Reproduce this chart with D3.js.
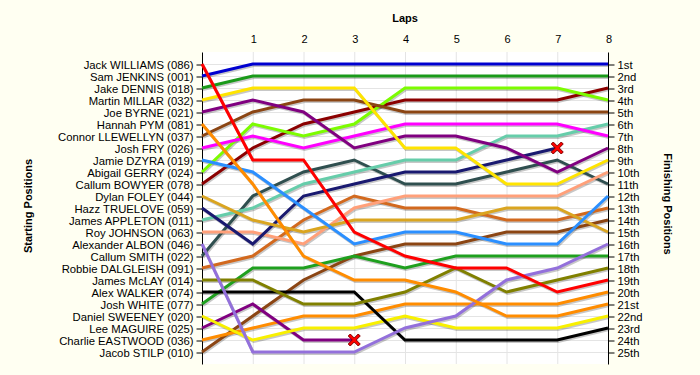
<!DOCTYPE html>
<html>
<head>
<meta charset="utf-8">
<script src="https://cdn.jsdelivr.net/npm/d3@7"></script>
<style>
  body { margin: 0; background: #fffff2; }
  text { font-family: "Liberation Sans", Arial, sans-serif; }
</style>
</head>
<body>
<div id="chart"></div>
<script>
// Chart data
let drivers = [
    "Jack WILLIAMS (086)", "Sam JENKINS (001)", "Jake DENNIS (018)", "Martin MILLAR (032)",
    "Joe BYRNE (021)", "Hannah PYM (081)", "Connor LLEWELLYN (037)", "Josh FRY (026)",
    "Jamie DZYRA (019)", "Abigail GERRY (024)", "Callum BOWYER (078)", "Dylan FOLEY (044)",
    "Hazz TRUELOVE (059)", "James APPLETON (011)", "Roy JOHNSON (063)", "Alexander ALBON (046)",
    "Callum SMITH (022)", "Robbie DALGLEISH (091)", "James McLAY (014)", "Alex WALKER (074)",
    "Josh WHITE (077)", "Daniel SWEENEY (020)", "Lee MAGUIRE (025)", "Charlie EASTWOOD (036)",
    "Jacob STILP (010)"
];

let laps = [1, 2, 3, 4, 5, 6, 7, 8];

let finishLabels = ["1st", "2nd", "3rd", "4th", "5th", "6th", "7th", "8th", "9th", "10th",
    "11th", "12th", "13th", "14th", "15th", "16th", "17th", "18th", "19th", "20th",
    "21st", "22nd", "23rd", "24th", "25th"];

// position of each driver at lap 0..8 (shorter list = retired on its last lap)
let positions = [
    [1, 9, 9, 15, 17, 18, 18, 20, 19],
    [2, 1, 1, 1, 1, 1, 1, 1, 1],
    [3, 2, 2, 2, 2, 2, 2, 2, 2],
    [4, 3, 3, 3, 8, 8, 11, 11, 9],
    [5, 4, 5, 8, 7, 7, 8, 10, 8],
    [6, 11, 17, 19, 19, 20, 22, 22, 21],
    [7, 5, 4, 4, 5, 5, 5, 5, 5],
    [8, 7, 8, 7, 6, 6, 6, 6, 7],
    [9, 10, 13, 16, 15, 15, 16, 16, 12],
    [10, 6, 7, 6, 3, 3, 3, 3, 4],
    [11, 8, 6, 5, 4, 4, 4, 4, 3],
    [12, 14, 15, 14, 14, 14, 13, 13, 15],
    [13, 16, 12, 11, 10, 10, 9, 8],
    [14, 13, 11, 10, 9, 9, 7, 7, 6],
    [15, 15, 16, 13, 12, 12, 12, 12, 10],
    [16, 25, 25, 25, 23, 22, 19, 18, 16],
    [17, 12, 10, 9, 11, 11, 10, 9, 11],
    [18, 17, 14, 12, 13, 13, 14, 14, 13],
    [19, 19, 21, 21, 20, 18, 20, 19, 18],
    [20, 20, 20, 20, 24, 24, 24, 24, 23],
    [21, 18, 18, 17, 18, 17, 17, 17, 17],
    [22, 24, 23, 23, 22, 23, 23, 23, 22],
    [23, 21, 24, 24],
    [24, 23, 22, 22, 21, 21, 21, 21, 20],
    [25, 22, 19, 17, 16, 16, 15, 15, 14]
];

// line colours, one per driver
let palette = [
    "#ff0000", "#0000d0", "#1a9a1a", "#ffe400", "#800080", "#ff8c00", "#8b4513", "#ff00ff",
    "#2b8fff", "#7cfc00", "#8b0000", "#daa520", "#191970", "#66cdaa", "#ffa07a", "#9370db",
    "#2f4f4f", "#d2691e", "#808000", "#000000", "#1fa01f", "#f8f000", "#800080", "#ff8c00",
    "#8b4513"
];

let svgWidth = 700;
let svgHeight = 375;

let svg = d3.select("#chart")
    .append("svg")
    .attr("width", svgWidth)
    .attr("height", svgHeight);

let xScale = d3.scaleLinear()
    .domain([0, 8])
    .range([202, 608]);

let yScale = d3.scaleLinear()
    .domain([1, 25])
    .range([64, 352]);

let plotTop = 52;
let plotBottom = 364;

// plot background
svg.append("rect")
    .attr("x", xScale(0))
    .attr("y", plotTop)
    .attr("width", xScale(8) - xScale(0))
    .attr("height", plotBottom - plotTop)
    .attr("fill", "#ffffff");

// gridlines
svg.append("g")
    .selectAll("line")
    .data(d3.range(1, 26))
    .join("line")
    .attr("x1", xScale(0))
    .attr("x2", xScale(8))
    .attr("y1", d => yScale(d) + 0.5)
    .attr("y2", d => yScale(d) + 0.5)
    .attr("stroke", "#e4e4e4");

svg.append("g")
    .selectAll("line")
    .data(laps.slice(0, -1))
    .join("line")
    .attr("x1", d => xScale(d) + 0.5)
    .attr("x2", d => xScale(d) + 0.5)
    .attr("y1", plotTop)
    .attr("y2", plotBottom)
    .attr("stroke", "#e4e4e4");

// axes
let leftAxis = d3.axisLeft(yScale)
    .tickValues(d3.range(1, 26))
    .tickFormat(d => drivers[d - 1])
    .tickSize(6)
    .tickSizeOuter(0);

let rightAxis = d3.axisRight(yScale)
    .tickValues(d3.range(1, 26))
    .tickFormat(d => finishLabels[d - 1])
    .tickSize(6)
    .tickSizeOuter(0);

let topAxis = d3.axisTop(xScale)
    .tickValues(laps)
    .tickSize(0);

let yAxisL = svg.append("g")
    .attr("transform", `translate(${xScale(0) + 0.5}, 0.5)`)
    .call(leftAxis);

let yAxisR = svg.append("g")
    .attr("transform", `translate(${xScale(8) + 0.5}, 0.5)`)
    .call(rightAxis);

[yAxisL, yAxisR].forEach(a => {
    a.select(".domain").remove();
    a.append("line")
        .attr("y1", plotTop)
        .attr("y2", plotBottom)
        .attr("stroke", "#000");
    a.selectAll("text").attr("font-size", 11.3).attr("fill", "#000")
        .attr("font-family", "Liberation Sans, Arial, sans-serif");
});

let xAxis = svg.append("g")
    .attr("transform", `translate(0.5, ${plotTop - 6})`)
    .call(topAxis);
xAxis.select(".domain").remove();
xAxis.selectAll("text").attr("font-size", 11).attr("fill", "#000")
    .attr("font-family", "Liberation Sans, Arial, sans-serif");

// titles
svg.append("text")
    .attr("x", (xScale(0) + xScale(8)) / 2)
    .attr("y", 22)
    .attr("text-anchor", "middle")
    .attr("font-size", 11)
    .attr("font-weight", "bold")
    .text("Laps");

svg.append("text")
    .attr("transform", `translate(32, ${(plotTop + plotBottom) / 2 - 2}) rotate(-90)`)
    .attr("text-anchor", "middle")
    .attr("font-size", 11)
    .attr("font-weight", "bold")
    .text("Starting Positions");

svg.append("text")
    .attr("transform", `translate(664, ${(plotTop + plotBottom) / 2 - 4}) rotate(90)`)
    .attr("text-anchor", "middle")
    .attr("font-size", 11)
    .attr("font-weight", "bold")
    .text("Finishing Positions");

// driver lines
let line = d3.line()
    .x((d, i) => xScale(i))
    .y(d => yScale(d));

let order = d3.range(drivers.length).reverse();

let shadows = svg.append("g");
let lines = svg.append("g");

order.forEach(i => {
    shadows.append("path")
        .attr("d", line(positions[i]))
        .attr("transform", "translate(1, 1.5)")
        .attr("fill", "none")
        .attr("stroke", "#000")
        .attr("stroke-opacity", 0.22)
        .attr("stroke-width", 3);
});

order.forEach(i => {
    lines.append("path")
        .attr("d", line(positions[i]))
        .attr("fill", "none")
        .attr("stroke", palette[i])
        .attr("stroke-width", 3)
        .attr("stroke-linejoin", "miter");
});

// retirement markers
let retired = positions
    .map((p, i) => ({ lap: p.length - 1, pos: p[p.length - 1], idx: i }))
    .filter(d => d.lap < 8);

let cross = "M-4,-6 L0,-2 L4,-6 L6,-4 L2,0 L6,4 L4,6 L0,2 L-4,6 L-6,4 L-2,0 L-6,-4 Z";

svg.append("g")
    .selectAll("path")
    .data(retired)
    .join("path")
    .attr("d", cross)
    .attr("transform", d => `translate(${xScale(d.lap)}, ${yScale(d.pos)})`)
    .attr("fill", "#ff0000")
    .attr("stroke", "#800000")
    .attr("stroke-width", 1);
</script>
</body>
</html>
